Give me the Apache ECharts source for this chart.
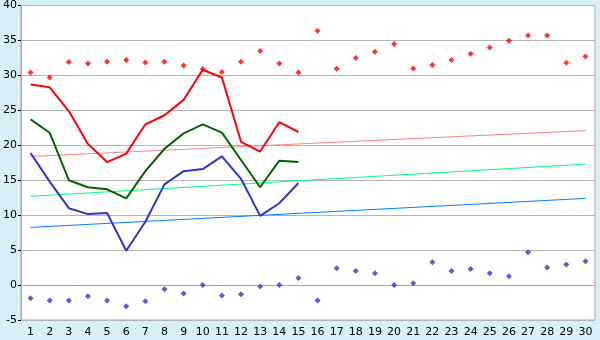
<!DOCTYPE html>
<html>
<head>
<meta charset="utf-8">
<script src="https://cdn.jsdelivr.net/npm/echarts@6/dist/echarts.min.js"></script>
<style>
html,body{margin:0;padding:0;background:#d9eff6;}
#c{width:600px;height:340px;}
</style>
</head>
<body>
<div id="c"></div>
<script>
var days = ['1','2','3','4','5','6','7','8','9','10','11','12','13','14','15','16','17','18','19','20','21','22','23','24','25','26','27','28','29','30'];
var maxPoints = [30.4,29.7,31.9,31.7,31.95,32.2,31.85,31.95,31.4,30.9,30.5,31.95,33.5,31.7,30.4,36.4,30.95,32.5,33.4,34.5,31.0,31.5,32.2,33.1,34.0,34.95,35.7,35.7,31.8,32.7];
var minPoints = [-1.9,-2.2,-2.2,-1.6,-2.2,-3.05,-2.3,-0.6,-1.2,0.0,-1.5,-1.3,-0.2,0.0,1.0,-2.2,2.4,2.0,1.7,0.0,0.25,3.25,2.0,2.3,1.7,1.25,4.7,2.5,2.95,3.4];
var redLine = [28.7,28.3,24.9,20.2,17.6,18.8,23.0,24.3,26.5,30.8,29.7,20.5,19.1,23.3,21.9];
var greenLine = [23.7,21.8,15.0,14.0,13.7,12.4,16.3,19.5,21.7,23.0,21.8,17.9,14.0,17.8,17.6];
var blueLine = [18.9,14.8,11.0,10.15,10.3,4.9,9.05,14.4,16.3,16.6,18.4,15.2,9.9,11.7,14.6];
var trendRed = [18.4,22.1];
var trendGreen = [12.7,17.3];
var trendBlue = [8.25,12.4];
var yTicks = [-5,0,5,10,15,20,25,30,35,40];

function ends(arr){ return [[days[0], arr[0]], [days[days.length-1], arr[1]]]; }

var chart = echarts.init(document.getElementById('c'));
var font = 'DejaVu Sans';
chart.setOption({
  animation: false,
  backgroundColor: '#d9eff6',
  grid: {left: 20, right: 5, top: 5, bottom: 20, show: true, backgroundColor: '#ffffff', borderColor: '#a8a8a8', borderWidth: 1},
  xAxis: {
    type: 'category', data: days, boundaryGap: true,
    axisLine: {lineStyle: {color: '#a8a8a8'}},
    axisTick: {alignWithLabel: true, length: 4, lineStyle: {color: '#000000'}},
    axisLabel: {color: '#000', fontFamily: font, fontSize: 11, margin: 7, interval: 0},
    splitLine: {show: false}
  },
  yAxis: {
    type: 'value', min: yTicks[0], max: yTicks[yTicks.length-1], interval: 5,
    axisLine: {show: true, lineStyle: {color: '#a8a8a8'}},
    axisTick: {show: true, length: 3, lineStyle: {color: '#000000'}},
    axisLabel: {color: '#000', fontFamily: font, fontSize: 11, margin: 4},
    splitLine: {lineStyle: {color: '#b4b4b4', width: 1}}
  },
  series: [
    {type: 'line', data: ends(trendRed), symbol: 'none', lineStyle: {color: '#ff8080', width: 1}, z: 1},
    {type: 'line', data: ends(trendGreen), symbol: 'none', lineStyle: {color: '#00ff80', width: 1}, z: 1},
    {type: 'line', data: ends(trendBlue), symbol: 'none', lineStyle: {color: '#0080ff', width: 1}, z: 1},
    {type: 'line', data: redLine, symbol: 'none', lineStyle: {color: '#ff0000', width: 2}, z: 3},
    {type: 'line', data: greenLine, symbol: 'none', lineStyle: {color: '#006400', width: 2}, z: 3},
    {type: 'line', data: blueLine, symbol: 'none', lineStyle: {color: '#3333cc', width: 2}, z: 3},
    {type: 'scatter', data: maxPoints, symbol: 'diamond', symbolSize: 6, itemStyle: {color: '#ff0000'}, z: 4},
    {type: 'scatter', data: minPoints, symbol: 'diamond', symbolSize: 6, itemStyle: {color: '#3333cc'}, z: 4}
  ]
});
</script>
</body>
</html>
